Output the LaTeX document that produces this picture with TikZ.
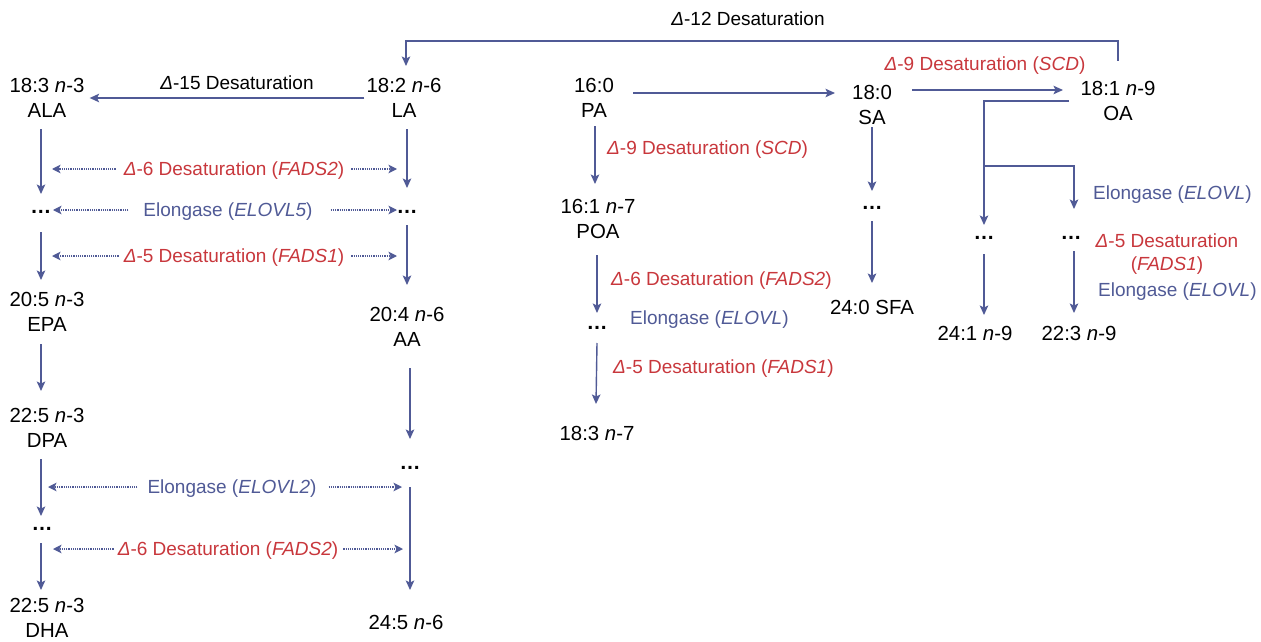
\documentclass[tikz,border=0pt]{standalone}
\usepackage{fontspec}
\setmainfont{Liberation Sans}
\usetikzlibrary{arrows.meta,calc}
\definecolor{eblue}{RGB}{80,90,150}
\definecolor{ered}{RGB}{200,55,60}
\begin{document}
\begin{tikzpicture}[x=1pt,y=-1pt,
  fa/.style={font=\fontsize{20.4}{24.5}\selectfont, align=center, inner sep=0pt, text=black, yshift=-1pt},
  dts/.style={font=\bfseries\fontsize{21}{24.5}\selectfont, inner sep=0pt, text=black},
  lab/.style={font=\fontsize{19}{23}\selectfont, inner sep=0pt, text height=13.6pt, text depth=0pt},
  redlab/.style={lab, text=ered},
  bluelab/.style={lab, text=eblue},
  blacklab/.style={lab, text=black},
  arr/.style={draw=eblue, line width=1.4pt, -{Stealth[length=9.5pt,width=8.5pt,inset=2pt]}},
  darr/.style={draw=eblue, line width=1.3pt, dash pattern=on 1.2pt off 1pt, -{Stealth[length=8.5pt,width=8.5pt,inset=2pt]}},
]
\useasboundingbox (0,0) rectangle (1261,642);

% ---------- fatty acid nodes ----------
\node[fa] (ALA) at (47,97) {18:3 \textit{n}-3\\ALA};
\node[fa] (LA)  at (404,97) {18:2 \textit{n}-6\\LA};
\node[fa] (PA)  at (594,97) {16:0\\PA};
\node[fa] (SA)  at (872,104) {18:0\\SA};
\node[fa] (OA)  at (1118,100) {18:1 \textit{n}-9\\OA};
\node[fa] (EPA) at (47,311) {20:5 \textit{n}-3\\EPA};
\node[fa] (AA)  at (407,326) {20:4 \textit{n}-6\\AA};
\node[fa] (DPA) at (47,427) {22:5 \textit{n}-3\\DPA};
\node[fa] (DHA) at (47,617) {22:5 \textit{n}-3\\DHA};
\node[fa] (TPA) at (406,621) {24:5 \textit{n}-6};
\node[fa] (POA) at (598,218) {16:1 \textit{n}-7\\POA};
\node[fa] (HTA) at (597,432) {18:3 \textit{n}-7};
\node[fa] (SFA) at (872,306) {24:0 SFA};
\node[fa] (NA)  at (975,332) {24:1 \textit{n}-9};
\node[fa] (MA)  at (1079,332) {22:3 \textit{n}-9};

% ---------- intermediate dots ----------
\node[dts] (dA1) at (41,212) {…};
\node[dts] (dB1) at (407,212) {…};
\node[dts] (dA2) at (42,529) {…};
\node[dts] (dB2) at (410,468) {…};
\node[dts] (dP)  at (597,328) {…};
\node[dts] (dS)  at (872,208) {…};
\node[dts] (dO1) at (984,238) {…};
\node[dts] (dO2) at (1071,238) {…};

% ---------- labels ----------
\node[blacklab] (l12) at (748,19) {\textit{Δ}-12 Desaturation};
\node[blacklab] (l15) at (237,83) {\textit{Δ}-15 Desaturation};
\node[redlab] (l9a) at (985,64) {\textit{Δ}-9 Desaturation (\textit{SCD})};
\node[redlab, anchor=west] (l9b) at (607,148) {\textit{Δ}-9 Desaturation (\textit{SCD})};
\node[redlab, anchor=west] (l6p) at (611,279) {\textit{Δ}-6 Desaturation (\textit{FADS2})};
\node[bluelab, anchor=west] (lep) at (630,318) {Elongase (\textit{ELOVL})};
\node[redlab, anchor=west] (l5p) at (613,367) {\textit{Δ}-5 Desaturation (\textit{FADS1})};
\node[bluelab, anchor=west] (leo1) at (1093,193) {Elongase (\textit{ELOVL})};
\node[text=ered, inner sep=0pt, align=center, font=\fontsize{19}{23}\selectfont, yshift=-1.5pt] (l5o) at (1167,253) {\textit{Δ}-5 Desaturation\\(\textit{FADS1})};
\node[bluelab, anchor=west] (leo2) at (1098,290) {Elongase (\textit{ELOVL})};

\node[redlab]  (L1) at (234,169) {\textit{Δ}-6 Desaturation (\textit{FADS2})};
\node[bluelab] (L2) at (228,210) {Elongase (\textit{ELOVL5})};
\node[redlab]  (L3) at (234,256) {\textit{Δ}-5 Desaturation (\textit{FADS1})};
\node[bluelab] (L4) at (232,487) {Elongase (\textit{ELOVL2})};
\node[redlab]  (L5) at (228,549) {\textit{Δ}-6 Desaturation (\textit{FADS2})};

% ---------- n-3 column ----------
\draw[arr] ($(ALA)+(-6,31)$) -- ($(dA1)+(0,-18)$);
\draw[arr] ($(dA1)+(0,20)$) -- ($(EPA)+(-6,-32)$);
\draw[arr] ($(EPA)+(-6,32)$) -- ($(DPA)+(-6,-37)$);
\draw[arr] ($(DPA)+(-6,31)$) -- ($(dA2)+(-1,-13)$);
\draw[arr] ($(dA2)+(-1,14)$) -- ($(DHA)+(-6,-28)$);

% ---------- n-6 column ----------
\draw[arr] ($(LA)+(3,31)$) -- ($(dB1)+(0,-24)$);
\draw[arr] ($(dB1)+(0,13)$) -- ($(AA)+(0,-42)$);
\draw[arr] ($(AA)+(3,41)$) -- ($(dB2)+(0,-29)$);
\draw[arr] ($(dB2)+(0,19)$) -- ($(TPA)+(4,-32)$);

% ---------- horizontal / top ----------
\draw[arr, shorten <=2pt, shorten >=5pt] (LA.west) -- (ALA.east);
\draw[arr] ($(OA)+(0,-40)$) -- ($(OA)+(0,-60)$) -| ($(LA)+(2,-32)$);
\draw[arr] ($(PA)+(39,-5)$) -- ($(SA)+(-37,-12)$);
\draw[arr] ($(SA)+(40,-15)$) -- ($(OA)+(-55,-11)$);

% ---------- n-7 column ----------
\draw[arr] ($(PA)+(1,28)$) -- ($(POA)+(-3,-35)$);
\draw[arr] ($(POA)+(-1,36)$) -- ($(dP)+(0,-15)$);
\draw[arr] ($(dP)+(0,15)$) -- ($(HTA)+(-1,-29)$);

% ---------- saturated column ----------
\draw[arr] ($(SA)+(0,22)$) -- ($(dS)+(0,-17)$);
\draw[arr] ($(dS)+(0,13)$) -- ($(SFA)+(0,-24)$);

% ---------- n-9 branches ----------
\draw[arr] ($(OA)+(-49,0)$) -| ($(dO1)+(0,-13)$);
\coordinate (br) at (984,166);
\draw[arr] (br) -| ($(dO2)+(3,-29)$);
\draw[arr] ($(dO1)+(0,16)$) -- ($(NA)+(9,-18)$);
\draw[arr] ($(dO2)+(3,13)$) -- ($(MA)+(-5,-20)$);

% ---------- dotted enzyme arrows ----------
\foreach \L/\A/\B/\ls/\le/\rs/\re in {L1/dA1/dB1/8/11/7/10, L2/dA1/dB1/15/12/18/10, L3/dA1/dB1/5/11/7/10, L4/dA2/dB2/10/6/12/8, L5/dA2/dB2/4/11/5/7}{
  \draw[darr, shorten <=\ls pt, shorten >=\le pt] (\L.west) -- (\L.west -| \A);
  \draw[darr, shorten <=\rs pt, shorten >=\re pt] (\L.east) -- (\L.east -| \B);
}
\end{tikzpicture}
\end{document}
